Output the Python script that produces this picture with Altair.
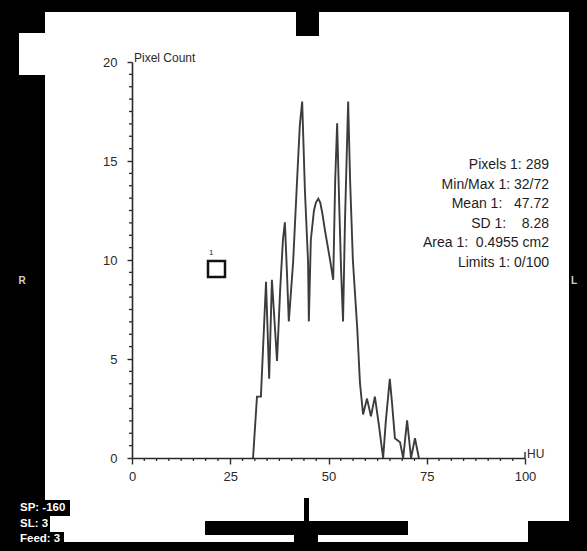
import altair as alt
import pandas as pd

# ---- data ----
hu = [30.8, 31.8, 32.8, 34.1, 34.9, 35.6, 36.9, 37.7, 38.4, 38.9, 39.4, 39.9,
      41.0, 42.0, 42.7, 43.3, 44.0, 44.8, 45.0, 45.5, 46.3, 46.8, 47.4, 47.9, 48.4,
      49.1, 50.4, 51.2, 51.7, 52.2, 52.7, 53.2, 53.7, 54.2, 55.0, 55.5, 56.2,
      57.3, 58.0, 58.8, 59.8, 60.8, 61.8, 62.8, 63.9, 64.6, 65.6, 66.2, 66.9,
      68.2, 69.0, 70.0, 71.0, 72.0, 73.0]
count = [0, 3.1, 3.1, 8.9, 4.0, 9.0, 4.9, 8.5, 11.0, 11.9, 9.5, 6.9,
         9.9, 14.0, 16.8, 18.0, 13.5, 9.9, 6.9, 11.0, 12.5, 12.9, 13.1, 12.9, 12.4,
         11.5, 10.0, 9.0, 14.0, 16.9, 13.0, 9.5, 6.9, 12.0, 18.0, 14.0, 10.0,
         6.6, 3.8, 2.2, 3.0, 2.1, 3.1, 1.7, 0, 1.9, 4.0, 2.7, 1.0,
         0.8, 0, 1.9, 0, 1.0, 0]

x_major = [0, 25, 50, 75, 100]
y_major = [0, 5, 10, 15, 20]
x_minor = [i * 3.125 for i in range(33) if i % 8 != 0]
y_minor = [i * 0.625 for i in range(33) if i % 8 != 0]

stats = ["Pixels 1: 289", "Min/Max 1: 32/72", "Mean 1:\u00a0\u00a0 47.72",
         "SD 1:\u00a0\u00a0\u00a0 8.28", "Area 1:\u00a0 0.4955 cm2", "Limits 1: 0/100"]
side_labels = ["SP: -160", "SL: 3", "Feed: 3"]

# ---- layout ----
X0, Y0 = 132, 62
W, H = 393, 396
FONT = "Liberation Sans"
INK = "#2a2a2a"


def px(x):
    return x - X0


def py(y):
    return y - Y0


one = alt.Data(values=[{"a": 1}])


def box(x1, y1, x2, y2, color):
    return alt.Chart(one).mark_rect(color=color).encode(
        x=alt.value(px(x1)), x2=alt.value(px(x2)),
        y=alt.value(py(y1)), y2=alt.value(py(y2)))


def label(txt, x, y, size, color=INK, align="left", baseline="middle", weight="normal", **kw):
    return alt.Chart(one).mark_text(
        text=txt, align=align, baseline=baseline, fontSize=size, font=FONT,
        color=color, fontWeight=weight, **kw).encode(
        x=alt.value(px(x)), y=alt.value(py(y)))


xscale = alt.Scale(domain=[0, 100], nice=False, zero=False)
yscale = alt.Scale(domain=[0, 20], nice=False, zero=False)
xaxis = alt.Axis(values=x_major, title=None, grid=False, tickSize=6, labelPadding=6,
                 labelFontSize=13, labelFont=FONT, labelColor=INK, domainColor=INK,
                 tickColor=INK, domainWidth=1.6, tickWidth=1.4, zindex=1, labelFlush=False)
yaxis = alt.Axis(values=y_major, title=None, grid=False, tickSize=5, labelPadding=10,
                 labelFontSize=13, labelFont=FONT, labelColor=INK, domainColor=INK,
                 tickColor=INK, domainWidth=1.6, tickWidth=1.4, zindex=1)

paper = [
    box(45, 12, 569, 500, "white"),
    box(19, 33, 45, 75, "white"),
    box(70, 500, 569, 521, "white"),
    box(50, 516, 528, 532, "white"),
    box(64, 532, 528, 542, "white"),
    box(296, 12, 319, 36, "black"),
    box(205, 521, 408, 535, "black"),
    box(304, 498, 309, 521, "black"),
    box(294, 533, 318, 551, "black"),
]

df = pd.DataFrame({"hu": hu, "count": count})
line = alt.Chart(df).mark_line(color="#3c3c3c", strokeWidth=1.9).encode(
    x=alt.X("hu:Q", scale=xscale, axis=xaxis),
    y=alt.Y("count:Q", scale=yscale, axis=yaxis))

xm = alt.Chart(pd.DataFrame({"hu": x_minor})).mark_rule(color=INK, strokeWidth=1.3).encode(
    x=alt.X("hu:Q", scale=xscale, axis=xaxis), y=alt.value(H), y2=alt.value(H + 3))
ym = alt.Chart(pd.DataFrame({"count": y_minor})).mark_rule(color=INK, strokeWidth=1.3).encode(
    y=alt.Y("count:Q", scale=yscale, axis=yaxis), x=alt.value(0), x2=alt.value(-3))

end_tick = alt.Chart(one).mark_rule(color=INK, strokeWidth=1.4).encode(
    x=alt.value(W), y=alt.value(H - 6), y2=alt.value(H))

roi = alt.Chart(one).mark_rect(fill=None, stroke="#111", strokeWidth=2.5).encode(
    x=alt.value(px(208)), x2=alt.value(px(225)), y=alt.value(py(261)), y2=alt.value(py(277)))

texts = [
    label("Pixel Count", 134, 58, 12),
    label("HU", 527, 454, 12),
    label("1", 209, 253, 8),
    alt.Chart(one).mark_text(text=stats, align="right", baseline="middle", fontSize=14,
                             font=FONT, color="#1e1e1e", lineHeight=19.6).encode(
        x=alt.value(px(549)), y=alt.value(py(165))),
    label("R", 22, 281, 10, color="#d0d0d0", align="center", weight="bold"),
    label("L", 574, 281, 10, color="#d0d0d0", align="center", weight="bold"),
    alt.Chart(one).mark_text(text=side_labels, align="left", baseline="middle", fontSize=11.5,
                             font=FONT, color="white", fontWeight="bold", lineHeight=15.5).encode(
        x=alt.value(px(20)), y=alt.value(py(508))),
]

chart = alt.layer(*paper, line, xm, ym, end_tick, roi, *texts).properties(
    width=W, height=H,
    padding={"left": X0, "top": Y0, "right": 587 - X0 - W, "bottom": 551 - Y0 - H},
    autosize=alt.AutoSizeParams(type="none"),
).configure(background="black").configure_view(strokeWidth=0)

chart.save("out.html", embed_options={"renderer": "svg", "actions": False})
